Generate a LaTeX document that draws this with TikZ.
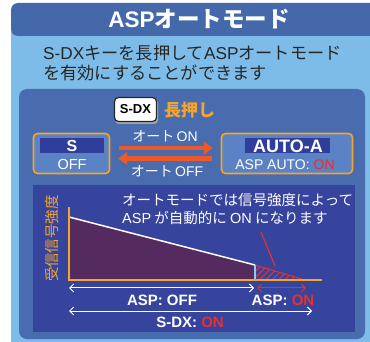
\documentclass[tikz,border=0pt]{standalone}
\usepackage{fontspec}
\setmainfont{Noto Sans CJK JP}
\newfontfamily\lat{Liberation Sans}
\usetikzlibrary{arrows.meta,patterns.meta}
\definecolor{lightpanel}{HTML}{7DBCE8}
\definecolor{headblue}{HTML}{4468A9}
\definecolor{midpanel}{HTML}{486CAE}
\definecolor{boxfill}{HTML}{5B82C5}
\definecolor{band}{HTML}{2F3E9B}
\definecolor{chartbg}{HTML}{36449D}
\definecolor{orng}{HTML}{F5A42C}
\definecolor{arrred}{HTML}{EC5A2B}
\definecolor{onred}{HTML}{E8302A}
\definecolor{purp}{HTML}{552A5F}
\definecolor{lineblue}{HTML}{8EC8F0}
\tikzset{
  fs/.style={font=\fontsize{#1}{#1}\selectfont},
  modebox/.style={draw=orng, line width=1.6pt, rounded corners=4pt, fill=boxfill},
  bandbox/.style={fill=band, draw=none, inner sep=0pt},
  bigarrow/.style={draw=arrred, line width=4.5pt, -{Triangle[length=9pt,width=12pt]}},
  wdarrow/.style={draw=white, line width=1pt, {Straight Barb[length=4pt,width=8pt]}-{Straight Barb[length=4pt,width=8pt]}},
  rdarrow/.style={draw=onred, line width=1pt, {Straight Barb[length=4pt,width=8pt]}-{Straight Barb[length=4pt,width=8pt]}},
  axis/.style={draw=orng, line width=1.8pt},
  wtxt/.style={text=white, inner sep=0pt},
}
\begin{document}
\begin{tikzpicture}[x=1pt,y=-1pt]
\useasboundingbox (0,0) rectangle (370,342);
\clip (0,0) rectangle (370,342);
\fill[white] (0,0) rectangle (370,342);
% outer panel
\fill[lightpanel] (11,20) rectangle (380,350);
\fill[headblue, rounded corners=7pt] (11,3) rectangle (385,36);
\node[wtxt, font=\bfseries\fontsize{22.5}{22.5}\selectfont] (title) at (199,19.5) {{\lat ASP}オートモード};
\node[inner sep=0pt, anchor=west, text=black!85, fs=17.2] (sub1) at (43,53) {{\lat S-DX}キーを長押して{\lat ASP}オートモード};
\node[inner sep=0pt, anchor=west, text=black!85, fs=17.2] (sub2) at (43,73) {を有効にすることができます};
% middle panel
\fill[midpanel, rounded corners=8pt] (19,89) rectangle (365,339);
% key
\fill[black!35, rounded corners=4pt] (115,99) rectangle (158,124);
\node[draw=black!85, line width=1.2pt, fill=white, rounded corners=4pt, minimum width=42pt, minimum height=24pt, inner sep=0pt, font=\lat\bfseries\fontsize{13}{13}\selectfont] (key) at (135.5,109.5) {S-DX};
\node[inner sep=0pt, text=orng, font=\bfseries\fontsize{17}{17}\selectfont, anchor=west] (press) at (164,110) {長押し};
% mode boxes
\node[modebox, minimum width=76pt, minimum height=40pt] (sbox) at (71.5,153.5) {};
\node[bandbox, minimum width=64pt, minimum height=15pt] (sband) at (72,145.5) {};
\node[wtxt, font=\lat\bfseries\fontsize{16}{16}\selectfont] (stxt) at (72,146) {S};
\node[wtxt, font=\lat\fontsize{14.5}{14.5}\selectfont] (soff) at (72,164.5) {OFF};
\node[modebox, minimum width=131pt, minimum height=40pt] (abox) at (287,153.5) {};
\node[bandbox, minimum width=85pt, minimum height=15pt] (aband) at (287.5,145.5) {};
\node[wtxt, font=\lat\bfseries\fontsize{18}{18}\selectfont] (atxt) at (288,146) {AUTO-A};
\node[wtxt, font=\lat\fontsize{14}{14}\selectfont] (aon) at (285,164.5) {ASP AUTO: \textcolor{onred}{ON}};
% arrows between modes
\coordinate (r1) at (119,148);
\coordinate (r2) at (213,148);
\coordinate (l1) at (212,158.5);
\coordinate (l2) at (118,158.5);
\draw[bigarrow] (r1) -- (r2);
\draw[bigarrow] (l1) -- (l2);
\node[wtxt, fs=14] (lon) at (165,136) {オート\,{\lat ON}};
\node[wtxt, fs=14] (loff) at (167,171) {オート\,{\lat OFF}};
% chart panel
\fill[chartbg] (33,185) rectangle (355,332);
\coordinate (O) at (69,280);
\coordinate (ytop) at (69,207);
\coordinate (xend) at (322,280);
\coordinate (t0) at (69,217);
\coordinate (t1) at (255,265);
\coordinate (t2) at (255,280);
\coordinate (t3) at (305,280);
\fill[purp] (t0) -- (t1) -- (t2) -- (O) -- cycle;
\fill[pattern={Lines[angle=45,distance=4.5pt,line width=1pt]}, pattern color=onred] (t1) -- (t3) -- (t2) -- cycle;
\draw[onred, line width=1pt] (t1) -- (t3);
\draw[white, line width=1.5pt] (t0) -- (t1);
\draw[lineblue, line width=1.5pt] (t1) -- (t2);
\draw[axis] (ytop) -- (O) -- (xend);
\node[inner sep=0pt, text=orng, rotate=90, fs=14.5] (ylab) at (52.5,238.5) {受信信号強度};
% callout
\node[wtxt, anchor=west, fs=14.5] (c1) at (122,200) {オートモードでは信号強度によって};
\node[wtxt, anchor=west, fs=14.5] (c2) at (122,217.5) {{\lat ASP} が自動的に {\lat ON} になります};
\coordinate (cl1) at (261,232);
\coordinate (cl2) at (275,266);
\draw[onred, line width=1.2pt] (cl1) -- (cl2);
% range arrows
\coordinate (a1) at (69,288);
\coordinate (a2) at (254,288);
\coordinate (a3) at (257,288);
\coordinate (a4) at (306,288);
\coordinate (s1) at (69,311);
\coordinate (s2) at (312,311);
\draw[wdarrow] (a1) -- (a2);
\draw[rdarrow] (a3) -- (a4);
\draw[wdarrow] (s1) -- (s2);
\node[wtxt, font=\lat\bfseries\fontsize{15}{15}\selectfont] (aoff) at (162,300) {ASP: OFF};
\node[wtxt, font=\lat\bfseries\fontsize{15}{15}\selectfont] (aonl) at (283,300) {ASP: \textcolor{onred}{ON}};
\node[wtxt, font=\lat\bfseries\fontsize{15}{15}\selectfont] (sdx) at (190,322.5) {S-DX: \textcolor{onred}{ON}};
\end{tikzpicture}
\end{document}
